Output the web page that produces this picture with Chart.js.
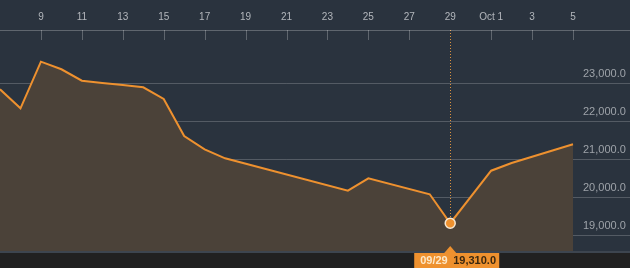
<!DOCTYPE html>
<html><head><meta charset="utf-8">
<script src="https://cdn.jsdelivr.net/npm/chart.js@4.4.1/dist/chart.umd.min.js"></script>
<style>html,body{margin:0;padding:0;background:#2a333e;overflow:hidden}#wrap{width:630px;height:268px;position:relative}</style>
</head><body><div id="wrap"><canvas id="c" width="630" height="268"></canvas></div>
<script>
const categories = ['09/07','09/08','09/09','09/10','09/11','09/12','09/13','09/14','09/15','09/16','09/17','09/18','09/19','09/20','09/21','09/22','09/23','09/24','09/25','09/26','09/27','09/28','09/29','09/30','10/01','10/02','10/03','10/04','10/05'];
const tickLabels = ['','','9','','11','','13','','15','','17','','19','','21','','23','','25','','27','','29','','Oct 1','','3','','5'];
const values = [22841,22340,23569,23369,23068,23007,22955,22894,22586,21610,21259,21022,null,null,null,null,null,20168,20495,null,null,20073,19310,null,20695,20898,null,null,21391];
const yTicks = [19000,20000,21000,22000,23000];
const highlightIndex = 22;

const fmt = v => v.toLocaleString('en-US',{minimumFractionDigits:1,maximumFractionDigits:1});
const GRID = 'rgba(255,255,255,0.2)';
const ORANGE = '#ee912f';

const deco = {
  id:'deco',
  beforeDraw(chart){
    const {ctx, chartArea:a, width, height} = chart;
    ctx.save();
    ctx.fillStyle = '#2a333e'; ctx.fillRect(0,0,width,height);
    ctx.fillStyle = '#212121'; ctx.fillRect(0,a.bottom+2,width,height-a.bottom-2);
    ctx.restore();
  },
  beforeDatasetsDraw(chart){
    const {ctx, chartArea:a} = chart;
    const x = Math.round(chart.scales.x.getPixelForValue(highlightIndex)) + 0.5;
    ctx.save();
    ctx.strokeStyle = '#d9913f'; ctx.lineWidth = 1; ctx.setLineDash([1,2]);
    ctx.beginPath(); ctx.moveTo(x,a.top); ctx.lineTo(x,a.bottom+2); ctx.stroke();
    ctx.restore();
  },
  afterDraw(chart){
    const {ctx, chartArea:a, width} = chart;
    const xs = chart.scales.x, ys = chart.scales.y;
    ctx.save();
    ctx.strokeStyle = GRID; ctx.lineWidth = 1;
    yTicks.forEach(v=>{
      const y = Math.round(ys.getPixelForValue(v)) + 0.5;
      ctx.beginPath(); ctx.moveTo(a.right,y); ctx.lineTo(width,y); ctx.stroke();
    });
    ctx.strokeStyle = 'rgba(255,255,255,0.25)';
    ctx.beginPath(); ctx.moveTo(0,a.top+0.5); ctx.lineTo(width,a.top+0.5); ctx.stroke();
    tickLabels.forEach((t,i)=>{
      if(!t || i===highlightIndex) return;
      const x = Math.round(xs.getPixelForValue(i)) + 0.5;
      ctx.beginPath(); ctx.moveTo(x,a.top); ctx.lineTo(x,a.top+10); ctx.stroke();
    });
    ctx.strokeStyle = 'rgba(255,255,255,0.18)';
    ctx.beginPath(); ctx.moveTo(0,a.bottom+1); ctx.lineTo(width,a.bottom+1); ctx.stroke();
    const px = xs.getPixelForValue(highlightIndex);
    const top = a.bottom + 2;
    const left = px - 36, w = 85, h = chart.height - top;
    ctx.fillStyle = ORANGE;
    ctx.fillRect(left, top, w, h);
    ctx.beginPath(); ctx.moveTo(px-6, top); ctx.lineTo(px, a.bottom-5); ctx.lineTo(px+6, top); ctx.closePath(); ctx.fill();
    ctx.font = 'bold 11px "Liberation Sans", Arial, sans-serif';
    ctx.textBaseline = 'middle'; ctx.textAlign = 'left';
    ctx.fillStyle = '#fde8c8';
    ctx.fillText(categories[highlightIndex], left+6, top+h/2+0.5);
    ctx.fillStyle = '#3a2810';
    ctx.fillText(fmt(values[highlightIndex]), px+3, top+h/2+0.5);
    ctx.restore();
  }
};

new Chart(document.getElementById('c'), {
  type:'line',
  data:{
    labels: categories,
    datasets:[{
      data: values,
      borderColor: ORANGE,
      borderWidth: 2,
      backgroundColor: '#4b4239',
      fill: 'start',
      tension: 0,
      spanGaps: true,
      pointRadius: ctx => ctx.dataIndex===highlightIndex ? 5 : 0,
      pointBackgroundColor: ORANGE,
      pointBorderColor: '#f6e7d2',
      pointBorderWidth: 1.5,
      pointHoverRadius: 0
    }]
  },
  options:{
    responsive:false,
    devicePixelRatio:1,
    animation:false,
    events:[],
    layout:{padding:{left:0,right:0,top:0,bottom:17}},
    plugins:{legend:{display:false},tooltip:{enabled:false}},
    scales:{
      x:{
        position:'top',
        offset:false,
        border:{display:false},
        grid:{display:false, drawTicks:false},
        ticks:{
          autoSkip:false, maxRotation:0, padding:7,
          color:'#b3b7bc',
          font:{size:10, family:'"Liberation Sans", Arial, sans-serif'},
          callback:(v,i)=>tickLabels[i]
        },
        afterFit: s => { s.height = 30; s.paddingLeft = 0; s.paddingRight = 0; }
      },
      y:{
        position:'right',
        z:1,
        min:18578, max:24404,
        border:{display:false},
        grid:{color:GRID, drawTicks:false},
        afterBuildTicks: s => { s.ticks = yTicks.map(v=>({value:v})); },
        ticks:{
          color:'#9ea3a9',
          padding:10,
          crossAlign:'near',
          labelOffset:-9,
          font:{size:11, family:'"Liberation Sans", Arial, sans-serif'},
          callback: v => fmt(v)
        },
        afterFit: s => { s.width = 57; }
      }
    }
  },
  plugins:[deco]
});
</script></body></html>
